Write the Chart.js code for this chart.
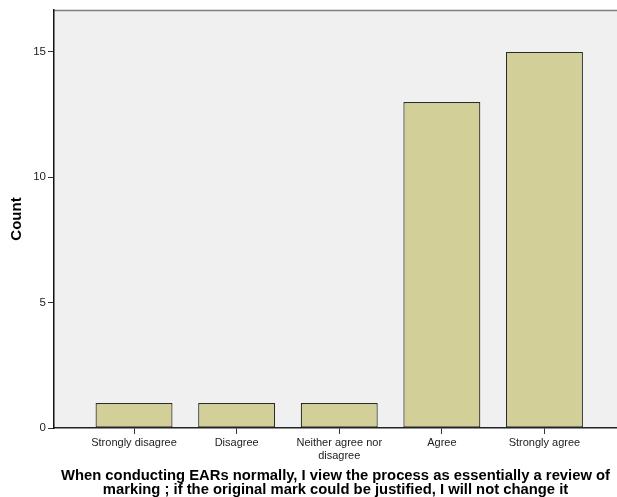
<!DOCTYPE html>
<html>
<head>
<meta charset="utf-8">
<script src="https://cdn.jsdelivr.net/npm/chart.js@4/dist/chart.umd.min.js"></script>
<style>
  html, body { margin: 0; padding: 0; background: #ffffff; }
  #wrap { width: 617px; height: 497px; }
</style>
</head>
<body>
<div id="wrap"><canvas id="c" width="617" height="497"></canvas></div>
<script>
const categories = [["Strongly disagree"], ["Disagree"], ["Neither agree nor", "disagree"], ["Agree"], ["Strongly agree"]];
const counts = [1, 1, 1, 13, 15];
const yTicks = [0, 5, 10, 15];
const xTitle = ["When conducting EARs normally, I view the process as essentially a review of", "marking ; if the original mark could be justified, I will not change it"];
const yTitle = "Count";

const bgPlugin = {
  id: 'bg',
  beforeDraw(chart) {
    const {ctx, chartArea: a} = chart;
    ctx.save();
    ctx.fillStyle = '#f0f0f0';
    ctx.fillRect(a.left, a.top, a.right - a.left, a.bottom - a.top);
    ctx.strokeStyle = '#7f7f7f';
    ctx.lineWidth = 1.5;
    ctx.beginPath();
    ctx.moveTo(a.left, a.top + 0.5);
    ctx.lineTo(a.right, a.top + 0.5);
    ctx.stroke();
    ctx.restore();
  }
};

new Chart(document.getElementById('c'), {
  type: 'bar',
  data: {
    datasets: [{
      data: counts.map((v, i) => ({x: i, y: v})),
      backgroundColor: '#d3cf98',
      borderColor: '#2b2b2b',
      borderWidth: 1.2,
      borderSkipped: false,
      barPercentage: 0.75,
      categoryPercentage: 1
    }]
  },
  options: {
    responsive: false,
    animation: false,
    layout: { padding: { top: 10, right: 0, left: 0, bottom: 0 } },
    plugins: { legend: { display: false }, tooltip: { enabled: false } },
    scales: {
      x: {
        type: 'linear',
        offset: false,
        min: -0.78,
        max: 4.707,
        afterBuildTicks(scale) { scale.ticks = categories.map((c, i) => ({value: i})); },
        afterFit(scale) { scale.height = 69; },
        grid: { offset: false, drawOnChartArea: false, tickLength: 6, color: '#333', lineWidth: 1 },
        border: { color: '#222', width: 1.5 },
        ticks: {
          font: { family: 'Liberation Sans', size: 11 },
          color: '#222',
          padding: 2,
          maxRotation: 0,
          autoSkip: false,
          callback(v) { return categories[v] || ''; }
        },
        title: {
          display: true,
          text: xTitle,
          font: { family: 'Liberation Sans', size: 14.8, weight: 'bold', lineHeight: 0.95 },
          color: '#000',
          padding: { top: 0, bottom: 0 }
        }
      },
      y: {
        min: 0,
        max: 16.67,
        afterBuildTicks(scale) { scale.ticks = yTicks.map(v => ({value: v})); },
        afterFit(scale) { scale.width = 54; },
        grid: { drawOnChartArea: false, tickLength: 6, color: '#333', lineWidth: 1 },
        border: { color: '#111', width: 1.5 },
        ticks: {
          font: { family: 'Liberation Sans', size: 11.5 },
          color: '#222',
          padding: 2
        },
        title: {
          display: true,
          text: yTitle,
          font: { family: 'Liberation Sans', size: 15, weight: 'bold', lineHeight: 1.2 },
          color: '#000',
          padding: { top: 8, bottom: 0 }
        }
      }
    }
  },
  plugins: [bgPlugin]
});
</script>
</body>
</html>
